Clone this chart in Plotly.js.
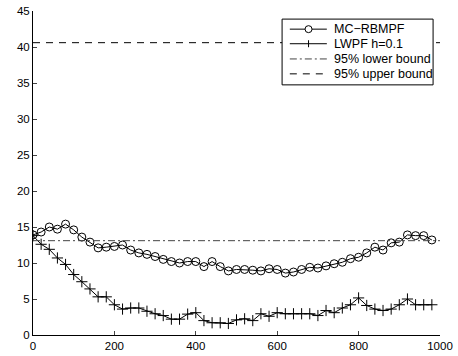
<!DOCTYPE html>
<html><head><meta charset="utf-8">
<script src="https://cdn.plot.ly/plotly-3.0.1.min.js"></script>
<style>html,body{margin:0;padding:0;background:#fff}#plot{width:458px;height:356px}</style>
</head><body><div id="plot"></div>
<script>
const steps = [0,20,40,60,80,100,120,140,160,180,200,220,240,260,280,300,320,340,360,380,400,420,440,460,480,500,520,540,560,580,600,620,640,660,680,700,720,740,760,780,800,820,840,860,880,900,920,940,960,980];
const mcRbmpf = [13.9,14.3,15.0,14.7,15.4,14.6,13.6,12.9,12.1,12.2,12.3,12.5,11.8,11.4,11.2,10.9,10.5,10.2,10.0,10.2,10.2,9.5,10.2,9.5,8.9,9.1,9.1,9.0,8.9,9.2,9.1,8.6,8.75,9.1,9.4,9.3,9.6,9.9,10.1,10.6,10.8,11.4,12.2,11.8,12.8,12.9,13.9,13.8,13.8,13.2];
const lwpf = [13.8,12.6,11.9,10.7,9.8,8.4,7.4,6.4,5.3,5.3,4.2,3.6,3.75,3.75,3.3,2.95,2.7,2.2,2.2,2.9,3.1,2.0,1.7,1.7,1.6,2.1,2.25,2.0,2.95,2.6,3.1,2.95,2.95,2.95,2.95,2.7,3.4,3.1,3.75,4.2,5.15,4.1,3.6,3.4,3.6,4.2,5.0,4.2,4.2,4.2];
const boundX = [0, 1000];
const lowerBound = [13.1, 13.1];
const upperBound = [40.6, 40.6];
const names = ['MC\u2212RBMPF','LWPF h=0.1','95% lower bound','95% upper bound'];

const lowerDash = '7px,3px,2px,3px';
const upperDash = '7px,6px';
const lowerColor = '#444';

const traces = [
  {x: steps, y: mcRbmpf, name: names[0], mode: 'lines+markers',
   line: {color: '#000', width: 1}, marker: {symbol: 'circle-open', size: 8, color: '#000', line: {width: 1}}},
  {x: steps, y: lwpf, name: names[1], mode: 'lines+markers',
   line: {color: '#000', width: 1}, marker: {symbol: 'cross-thin-open', size: 8, color: '#000', line: {width: 1, color: '#000'}}},
  {x: boundX, y: lowerBound, name: names[2], mode: 'lines',
   line: {color: lowerColor, width: 1, dash: lowerDash}},
  {x: boundX, y: upperBound, name: names[3], mode: 'lines',
   line: {color: '#000', width: 1, dash: upperDash}}
];

// custom legend (paper coordinates)
const L = {x0: 0.612, x1: 0.983, y0: 0.772, y1: 0.975, lineX0: 0.631, lineX1: 0.722, mk: 0.677, textX: 0.735,
           rows: [0.944, 0.899, 0.852, 0.806]};
const shapes = [
  {type: 'rect', xref: 'paper', yref: 'paper', x0: L.x0, x1: L.x1, y0: L.y0, y1: L.y1,
   line: {color: '#000', width: 1}, fillcolor: '#fff', layer: 'above'},
  {type: 'line', xref: 'paper', yref: 'paper', x0: L.lineX0, x1: L.lineX1, y0: L.rows[0], y1: L.rows[0], line: {color: '#000', width: 1}},
  {type: 'circle', xref: 'paper', yref: 'paper', xsizemode: 'pixel', ysizemode: 'pixel', xanchor: L.mk, yanchor: L.rows[0],
   x0: -3.5, x1: 3.5, y0: -3.5, y1: 3.5, line: {color: '#000', width: 1}, fillcolor: '#fff'},
  {type: 'line', xref: 'paper', yref: 'paper', x0: L.lineX0, x1: L.lineX1, y0: L.rows[1], y1: L.rows[1], line: {color: '#000', width: 1}},
  {type: 'line', xref: 'paper', yref: 'paper', xsizemode: 'pixel', ysizemode: 'pixel', xanchor: L.mk, yanchor: L.rows[1],
   x0: 0, x1: 0, y0: -3.5, y1: 3.5, line: {color: '#000', width: 1}},
  {type: 'line', xref: 'paper', yref: 'paper', x0: L.lineX0, x1: L.lineX1, y0: L.rows[2], y1: L.rows[2], line: {color: lowerColor, width: 1, dash: lowerDash}},
  {type: 'line', xref: 'paper', yref: 'paper', x0: L.lineX0, x1: L.lineX1, y0: L.rows[3], y1: L.rows[3], line: {color: '#000', width: 1, dash: upperDash}}
];
const annotations = names.map((n, i) => ({
  xref: 'paper', yref: 'paper', x: L.textX, y: L.rows[i], xanchor: 'left', yanchor: 'middle',
  text: n, showarrow: false, font: {size: 12.5, color: '#000'}
}));

const layout = {
  width: 458, height: 356,
  margin: {l: 33, r: 18, t: 11, b: 21},
  paper_bgcolor: '#fff', plot_bgcolor: '#fff',
  font: {family: 'Liberation Sans, Arial, sans-serif', size: 11.5, color: '#000'},
  showlegend: false,
  shapes: shapes,
  annotations: annotations,
  xaxis: {range: [0, 1000], tickvals: [0,200,400,600,800,1000], ticks: 'inside', ticklen: 4,
          showline: true, linecolor: '#000', linewidth: 1, showgrid: false, zeroline: false, mirror: false},
  yaxis: {range: [0, 45], tickvals: [0,5,10,15,20,25,30,35,40,45], ticks: 'inside', ticklen: 4,
          showline: true, linecolor: '#000', linewidth: 1, showgrid: false, zeroline: false, mirror: false}
};
Plotly.newPlot('plot', traces, layout, {displayModeBar: false, staticPlot: true});
</script></body></html>
